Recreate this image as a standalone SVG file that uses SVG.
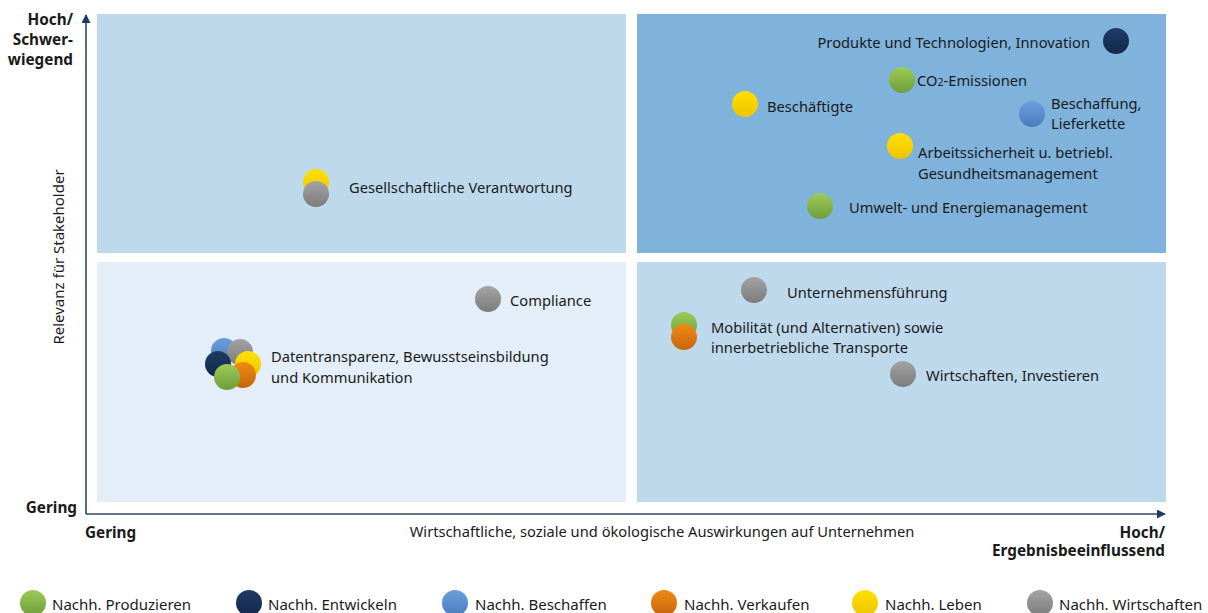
<svg xmlns="http://www.w3.org/2000/svg" width="1208" height="613" viewBox="0 0 1208 613">
<style>
text{font-family:"Noto Sans","Open Sans",sans-serif;fill:#1a1a1a;font-size:14.7px}
.b{font-weight:bold;font-size:15.3px}
.lg{font-size:15px}
.ax{stroke:#2e4867;stroke-width:1.6;fill:none}
.dot{stroke:none}
</style>
<defs>
<marker id="arr" viewBox="0 0 10 10" refX="9" refY="5" markerWidth="9" markerHeight="9" markerUnits="userSpaceOnUse" orient="auto"><path d="M0,0 L10,5 L0,10 z" fill="#1f3a5c"/></marker>
<linearGradient id="gG" x1="0" y1="0" x2="0" y2="1"><stop offset="0" stop-color="#9ccb58"/><stop offset="1" stop-color="#6f9d3a"/></linearGradient>
<linearGradient id="gN" x1="0" y1="0" x2="0" y2="1"><stop offset="0" stop-color="#1e3b66"/><stop offset="1" stop-color="#14284a"/></linearGradient>
<linearGradient id="gB" x1="0" y1="0" x2="0" y2="1"><stop offset="0" stop-color="#6c9fdb"/><stop offset="1" stop-color="#4a7cc0"/></linearGradient>
<linearGradient id="gO" x1="0" y1="0" x2="0" y2="1"><stop offset="0" stop-color="#f08a14"/><stop offset="1" stop-color="#c8650c"/></linearGradient>
<linearGradient id="gY" x1="0" y1="0" x2="0" y2="1"><stop offset="0" stop-color="#ffe100"/><stop offset="1" stop-color="#eec400"/></linearGradient>
<linearGradient id="gR" x1="0" y1="0" x2="0" y2="1"><stop offset="0" stop-color="#a3a3a3"/><stop offset="1" stop-color="#7c7c7c"/></linearGradient>
</defs>
<rect width="1208" height="613" fill="#ffffff"/>
<g id="quadrants">
<rect x="97" y="14" width="529" height="239" fill="#bed9ec"/>
<rect x="637" y="14" width="529" height="239" fill="#7fb3dc"/>
<rect x="97" y="262" width="529" height="240" fill="#e3eef8"/>
<rect x="637" y="262" width="529" height="240" fill="#bed9ec"/>
</g>
<g id="axes">
<path class="ax" d="M86,514 V15" marker-end="url(#arr)"/>
<path class="ax" d="M86,514 H1165" marker-end="url(#arr)"/>
<text class="b" x="73" y="25" text-anchor="end">Hoch/</text>
<text class="b" x="73" y="45" text-anchor="end">Schwer-</text>
<text class="b" x="73" y="65" text-anchor="end">wiegend</text>
<text class="b" x="77" y="513" text-anchor="end">Gering</text>
<text class="b" x="85" y="538">Gering</text>
<text x="662" y="537" text-anchor="middle">Wirtschaftliche, soziale und ökologische Auswirkungen auf Unternehmen</text>
<text class="b" x="1165" y="538" text-anchor="end">Hoch/</text>
<text class="b" x="1165" y="556" text-anchor="end">Ergebnisbeeinflussend</text>
<text class="lg" transform="translate(64,257) rotate(-90)" text-anchor="middle">Relevanz für Stakeholder</text>
</g>
<g id="n-produkte"><circle class="dot" cx="1116" cy="41" r="13" fill="url(#gN)"/><text x="1090" y="48" text-anchor="end">Produkte und Technologien, Innovation</text></g>
<g id="n-co2"><circle class="dot" cx="902" cy="80" r="13" fill="url(#gG)"/><text x="917" y="86">CO<tspan font-size="10.5">2</tspan>-Emissionen</text></g>
<g id="n-beschaeftigte"><circle class="dot" cx="745" cy="104" r="13" fill="url(#gY)"/><text x="767" y="112">Beschäftigte</text></g>
<g id="n-beschaffung"><circle class="dot" cx="1032" cy="114" r="13" fill="url(#gB)"/><text x="1051" y="109">Beschaffung,</text><text x="1051" y="129">Lieferkette</text></g>
<g id="n-arbeitssicherheit"><circle class="dot" cx="900" cy="146" r="13" fill="url(#gY)"/><text x="918" y="158">Arbeitssicherheit u. betriebl.</text><text x="918" y="179">Gesundheitsmanagement</text></g>
<g id="n-umwelt"><circle class="dot" cx="820" cy="206" r="13" fill="url(#gG)"/><text x="849" y="213">Umwelt- und Energiemanagement</text></g>
<g id="n-gesellschaft"><circle class="dot" cx="316" cy="182" r="13" fill="url(#gY)"/><circle class="dot" cx="316" cy="194" r="13" fill="url(#gR)"/><text x="349" y="193">Gesellschaftliche Verantwortung</text></g>
<g id="n-compliance"><circle class="dot" cx="488" cy="299" r="13" fill="url(#gR)"/><text x="510" y="306">Compliance</text></g>
<g id="n-daten"><circle class="dot" cx="224" cy="351" r="13" fill="url(#gB)"/><circle class="dot" cx="240" cy="352" r="13" fill="url(#gR)"/><circle class="dot" cx="218" cy="364" r="13" fill="url(#gN)"/><circle class="dot" cx="248" cy="364" r="13" fill="url(#gY)"/><circle class="dot" cx="243" cy="375" r="13" fill="url(#gO)"/><circle class="dot" cx="227" cy="377" r="13" fill="url(#gG)"/><text x="271" y="362">Datentransparenz, Bewusstseinsbildung</text><text x="271" y="383">und Kommunikation</text></g>
<g id="n-unternehmensfuehrung"><circle class="dot" cx="754" cy="290" r="13" fill="url(#gR)"/><text x="787" y="298">Unternehmensführung</text></g>
<g id="n-mobilitaet"><circle class="dot" cx="684" cy="325" r="13" fill="url(#gG)"/><circle class="dot" cx="684" cy="337" r="13" fill="url(#gO)"/><text x="711" y="333">Mobilität (und Alternativen) sowie</text><text x="711" y="353">innerbetriebliche Transporte</text></g>
<g id="n-wirtschaften"><circle class="dot" cx="903" cy="374" r="13" fill="url(#gR)"/><text x="926" y="381">Wirtschaften, Investieren</text></g>
<g id="legend">
<circle class="dot" cx="33" cy="603" r="13" fill="url(#gG)"/><text class="lg" x="52" y="610">Nachh. Produzieren</text>
<circle class="dot" cx="249" cy="603" r="13" fill="url(#gN)"/><text class="lg" x="268" y="610">Nachh. Entwickeln</text>
<circle class="dot" cx="455" cy="603" r="13" fill="url(#gB)"/><text class="lg" x="475" y="610">Nachh. Beschaffen</text>
<circle class="dot" cx="664" cy="603" r="13" fill="url(#gO)"/><text class="lg" x="684" y="610">Nachh. Verkaufen</text>
<circle class="dot" cx="865" cy="603" r="13" fill="url(#gY)"/><text class="lg" x="885" y="610">Nachh. Leben</text>
<circle class="dot" cx="1040" cy="603" r="13" fill="url(#gR)"/><text class="lg" x="1059" y="610">Nachh. Wirtschaften</text>
</g>
</svg>
